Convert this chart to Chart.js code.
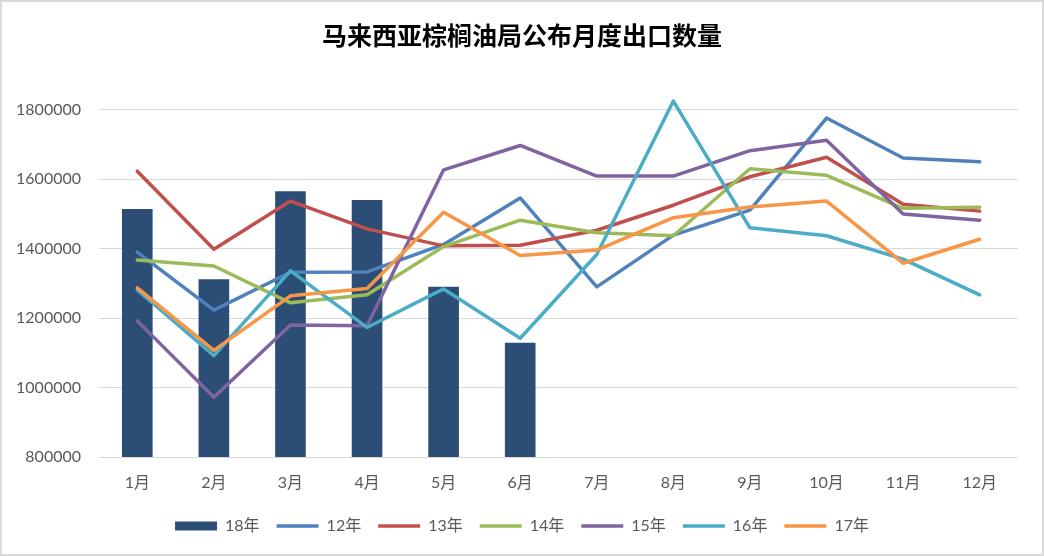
<!DOCTYPE html>
<html>
<head>
<meta charset="utf-8">
<script src="https://cdn.jsdelivr.net/npm/chart.js@4.4.1/dist/chart.umd.min.js"></script>
<style>
  html, body { margin: 0; padding: 0; background: #fff; }
  #wrap { width: 1044px; height: 556px; box-sizing: border-box; border: 2px solid #d9d9d9; }
</style>
</head>
<body>
<div id="wrap"><canvas id="exportChart" width="1040" height="552"></canvas></div>
<script>
// month labels and tick values
const months = ['1月', '2月', '3月', '4月', '5月', '6月', '7月', '8月', '9月', '10月', '11月', '12月'];
const yTicks = [800000, 1000000, 1200000, 1400000, 1600000, 1800000];

// monthly exports per year
const exports18 = [1514000, 1312000, 1565000, 1540000, 1290000, 1129000];
const exports12 = [1390000, 1223000, 1332000, 1333000, 1412000, 1546000, 1290000, 1439000, 1511000, 1776000, 1661000, 1650000];
const exports13 = [1623000, 1398000, 1537000, 1457000, 1408000, 1410000, 1453000, 1525000, 1607000, 1663000, 1528000, 1508000];
const exports14 = [1367000, 1350000, 1244000, 1267000, 1406000, 1482000, 1446000, 1437000, 1630000, 1611000, 1516000, 1519000];
const exports15 = [1192000, 972000, 1180000, 1178000, 1627000, 1697000, 1609000, 1609000, 1682000, 1712000, 1500000, 1482000];
const exports16 = [1281000, 1092000, 1336000, 1173000, 1284000, 1142000, 1383000, 1825000, 1460000, 1437000, 1370000, 1267000];
const exports17 = [1287000, 1107000, 1264000, 1285000, 1505000, 1380000, 1396000, 1489000, 1520000, 1537000, 1358000, 1427000];

const baseFont = "Lato, 'Noto Sans CJK SC', sans-serif";

function lineSet(label, data, color, order) {
    return {
        type: 'line',
        label: label,
        data: data,
        borderColor: color,
        backgroundColor: color,
        borderWidth: 3.5,
        borderCapStyle: 'round',
        borderJoinStyle: 'round',
        pointRadius: 0,
        pointStyle: 'line',
        tension: 0,
        order: order
    };
}

const ctx = document.getElementById('exportChart').getContext('2d');
const chart = new Chart(ctx, {
    data: {
        labels: months,
        datasets: [
            {
                type: 'bar',
                label: '18年',
                data: exports18,
                backgroundColor: '#2c4d75',
                borderWidth: 0,
                pointStyle: 'rect',
                barPercentage: 0.4,
                categoryPercentage: 1,
                order: 10
            },
            lineSet('12年', exports12, '#4f81bd', 6),
            lineSet('13年', exports13, '#c0504d', 5),
            lineSet('14年', exports14, '#9bbb59', 4),
            lineSet('15年', exports15, '#8064a2', 3),
            lineSet('16年', exports16, '#4bacc6', 2),
            lineSet('17年', exports17, '#f79646', 1)
        ]
    },
    options: {
        responsive: false,
        animation: false,
        layout: { padding: { left: 12, right: 12, top: 0, bottom: 10 } },
        plugins: {
            title: {
                display: true,
                text: '马来西亚棕榈油局公布月度出口数量',
                color: '#000',
                font: { family: "'Noto Sans CJK SC', sans-serif", size: 25, weight: 'bold' },
                padding: { top: 18, bottom: 25 }
            },
            legend: {
                position: 'bottom',
                labels: {
                    usePointStyle: true,
                    pointStyleWidth: 42,
                    boxHeight: 9,
                    padding: 17,
                    color: '#595959',
                    font: { family: baseFont, size: 16 },
                    sort: (a, b) => a.datasetIndex - b.datasetIndex
                }
            },
            tooltip: { enabled: false }
        },
        scales: {
            x: {
                grid: { display: false, drawTicks: false },
                border: { display: false },
                ticks: { color: '#595959', font: { family: baseFont, size: 16 }, padding: 16 },
                afterFit: function(scale) { scale.height = 44; }
            },
            y: {
                min: 800000,
                max: 1900000,
                grid: { color: '#d9d9d9', lineWidth: 1, drawTicks: false },
                border: { display: false },
                ticks: {
                    color: '#595959',
                    font: { family: baseFont, size: 16 },
                    padding: 18,
                    callback: value => String(value)
                },
                afterBuildTicks: function(scale) {
                    scale.ticks = yTicks.map(v => ({ value: v }));
                },
                afterFit: function(scale) { scale.width = 85; }
            },
            yRight: {
                position: 'right',
                grid: { display: false },
                border: { display: false },
                ticks: { display: false },
                afterFit: function(scale) { scale.width = 12; }
            }
        }
    }
});
</script>
</body>
</html>
